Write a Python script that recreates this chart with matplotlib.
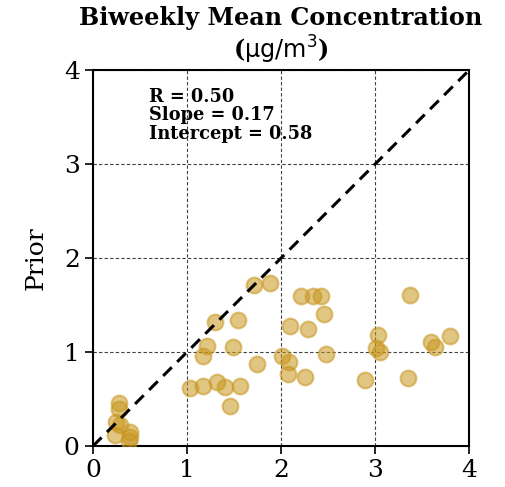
import matplotlib
matplotlib.use("Agg")
import matplotlib.pyplot as plt
import numpy as np

# Observed vs. prior biweekly mean concentrations
observed = [0.28, 0.28, 0.25, 0.29, 0.23, 0.39, 0.39, 0.38,
            1.03, 1.17, 1.32, 1.40, 1.56, 1.46, 1.17, 1.21, 1.49, 1.74,
            1.30, 1.54, 1.71, 1.88, 2.01, 2.08, 2.07, 2.10,
            2.21, 2.34, 2.42, 2.46, 2.29, 2.25, 2.48, 2.89,
            3.03, 3.01, 3.05, 3.37, 3.35, 3.59, 3.64, 3.80]
prior = [0.46, 0.39, 0.26, 0.22, 0.12, 0.15, 0.10, 0.05,
         0.62, 0.64, 0.68, 0.63, 0.64, 0.43, 0.96, 1.07, 1.05, 0.87,
         1.32, 1.34, 1.71, 1.74, 0.96, 0.89, 0.77, 1.28,
         1.60, 1.60, 1.60, 1.41, 1.25, 0.74, 0.98, 0.70,
         1.18, 1.04, 1.00, 1.61, 0.72, 1.11, 1.05, 1.17]

stats_text = "R = 0.50\nSlope = 0.17\nIntercept = 0.58"
ticks = [0, 1, 2, 3, 4]

plt.rcParams['font.family'] = 'DejaVu Serif'
plt.rcParams['mathtext.fontset'] = 'dejavusans'

fig = plt.figure(figsize=(5.05, 4.87), dpi=100)
ax = fig.add_axes([0.184, 0.084, 0.745, 0.772])

ax.scatter(observed, prior, s=130, color='#C8961E', alpha=0.55,
           edgecolors='#C8961E', linewidths=1.5, zorder=3)
ax.plot([0, 4], [0, 4], color='black', linestyle='--', linewidth=2.2,
        dashes=(4, 2.5), zorder=4)

ax.set_xlim(0, 4)
ax.set_ylim(0, 4)
ax.set_xticks(ticks)
ax.set_yticks(ticks)
ax.tick_params(axis='both', labelsize=18, length=6, width=1.2)
ax.grid(True, color='black', linestyle='--', linewidth=0.8, alpha=0.75,
        dashes=(3, 2))
for sp in ax.spines.values():
    sp.set_linewidth(1.5)

ax.set_ylabel("Prior", fontsize=18, labelpad=12)
ax.set_title("Biweekly Mean Concentration\n" + r"($\mathrm{\mu g/m^3}$)",
             fontsize=17.2, fontweight='bold', pad=8, linespacing=1.15)

ax.text(0.6, 3.81, stats_text, fontsize=12.8, fontweight='bold',
        va='top', ha='left', linespacing=1.02)

fig.savefig("out.png", dpi=100)
